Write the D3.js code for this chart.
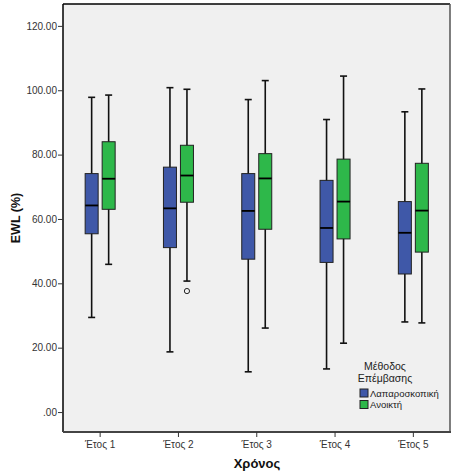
<!DOCTYPE html>
<html><head><meta charset="utf-8">
<script src="https://cdn.jsdelivr.net/npm/d3@7"></script>
<style>body{margin:0;background:#fff}svg{display:block}text{font-family:"Liberation Sans",Arial,sans-serif}</style>
</head><body><svg id="c" width="464" height="474"></svg>
<script>
const categories = ["Έτος 1","Έτος 2","Έτος 3","Έτος 4","Έτος 5"];
const seriesNames = ["Λαπαροσκοπική","Ανοικτή"];
const colors = ["#3F58A8","#2EB84A"];
const yTicks = [0,20,40,60,80,100,120];
// [lowerWhisker, Q1, median, Q3, upperWhisker]
const lapValues = [
  [29.4,55.4,64.2,74.1,97.8],
  [18.7,51.1,63.3,76.1,100.8],
  [12.5,47.5,62.5,74.1,97.1],
  [13.4,46.5,57.2,72.0,90.9],
  [28.0,42.9,55.7,65.4,93.3]
];
const openValues = [
  [45.9,63.0,72.5,84.0,98.5],
  [40.7,65.2,73.5,82.9,100.3],
  [26.1,56.8,72.6,80.3,103.0],
  [21.4,53.8,65.4,78.6,104.4],
  [27.7,49.7,62.6,77.3,100.4]
];
const outliers = [{cat:"Έτος 2", s:1, v:37.6}];

const svg = d3.select("#c");
const L=63, R=450, T=4, B=432;
const x = d3.scaleBand().domain(categories).range([61,452.5]);
const y = d3.scaleLinear().domain([-6.2,126.8]).range([B,T]);

svg.append("rect").attr("x",L).attr("y",T).attr("width",R-L).attr("height",B-T).attr("fill","#F0F0F0");

const boxW=13, off=8.5;
const series=[lapValues,openValues];
series.forEach((vals,s)=>{
  vals.forEach((d,i)=>{
    const cx = x(categories[i])+x.bandwidth()/2 + (s===0?-off:off);
    const g = svg.append("g");
    g.append("line").attr("x1",cx).attr("x2",cx).attr("y1",y(d[0])).attr("y2",y(d[4])).attr("stroke","#111").attr("stroke-width",1.6);
    [d[0],d[4]].forEach(v=>g.append("line").attr("x1",cx-3.5).attr("x2",cx+3.5).attr("y1",y(v)).attr("y2",y(v)).attr("stroke","#111").attr("stroke-width",1.6));
    g.append("rect").attr("x",cx-boxW/2).attr("y",y(d[3])).attr("width",boxW).attr("height",y(d[1])-y(d[3]))
      .attr("fill",colors[s]).attr("stroke","#222").attr("stroke-width",1);
    g.append("line").attr("x1",cx-boxW/2).attr("x2",cx+boxW/2).attr("y1",y(d[2])).attr("y2",y(d[2])).attr("stroke","#000").attr("stroke-width",1.8);
  });
});
outliers.forEach(o=>{
  const cx = x(o.cat)+x.bandwidth()/2 + (o.s===0?-off:off);
  svg.append("circle").attr("cx",cx).attr("cy",y(o.v)).attr("r",2.6).attr("fill","none").attr("stroke","#222").attr("stroke-width",1);
});

// borders
svg.append("line").attr("x1",L).attr("x2",R).attr("y1",T).attr("y2",T).attr("stroke","#000").attr("stroke-width",1.5);
svg.append("line").attr("x1",R).attr("x2",R).attr("y1",T).attr("y2",B).attr("stroke","#555").attr("stroke-width",1.5);

// axes
const yAxis = d3.axisLeft(y).tickValues(yTicks).tickSize(5).tickSizeOuter(0)
  .tickFormat(d=> d===0 ? ".00" : d3.format(".2f")(d));
const ya = svg.append("g").attr("transform",`translate(${L},0)`).call(yAxis);
ya.select(".domain").attr("stroke","#000").attr("stroke-width",1.5).attr("d",`M0,${T}V${B}`);
ya.selectAll(".tick line").attr("stroke","#333");
ya.selectAll("text").attr("font-size",10).attr("fill","#333").attr("x",-6);

const xAxis = d3.axisBottom(x).tickSize(5).tickSizeOuter(0);
const xa = svg.append("g").attr("transform",`translate(0,${B})`).call(xAxis);
xa.select(".domain").attr("stroke","#444").attr("stroke-width",2).attr("d",`M${L},0H${R+1}`);
xa.selectAll(".tick line").attr("stroke","#333");
xa.selectAll("text").attr("font-size",10).attr("fill","#333").attr("y",9);

svg.append("text").attr("transform","translate(20,218) rotate(-90)").attr("text-anchor","middle")
  .attr("font-size",12.5).attr("font-weight","bold").attr("fill","#111").text("EWL (%)");
svg.append("text").attr("x",257).attr("y",468).attr("text-anchor","middle")
  .attr("font-size",13).attr("font-weight","bold").attr("fill","#111").text("Χρόνος");

// legend
const lg = svg.append("g");
lg.append("text").attr("x",385).attr("y",370).attr("text-anchor","middle").attr("font-size",10.5).attr("fill","#222").text("Μέθοδος");
lg.append("text").attr("x",385).attr("y",382).attr("text-anchor","middle").attr("font-size",10.5).attr("fill","#222").text("Επέμβασης");
seriesNames.forEach((n,i)=>{
  lg.append("rect").attr("x",360).attr("y",389+i*11.5).attr("width",8).attr("height",8).attr("fill",colors[i]).attr("stroke","#222").attr("stroke-width",1);
  lg.append("text").attr("x",370).attr("y",396.5+i*11.5).attr("font-size",9.5).attr("fill","#222").text(n);
});
</script></body></html>
